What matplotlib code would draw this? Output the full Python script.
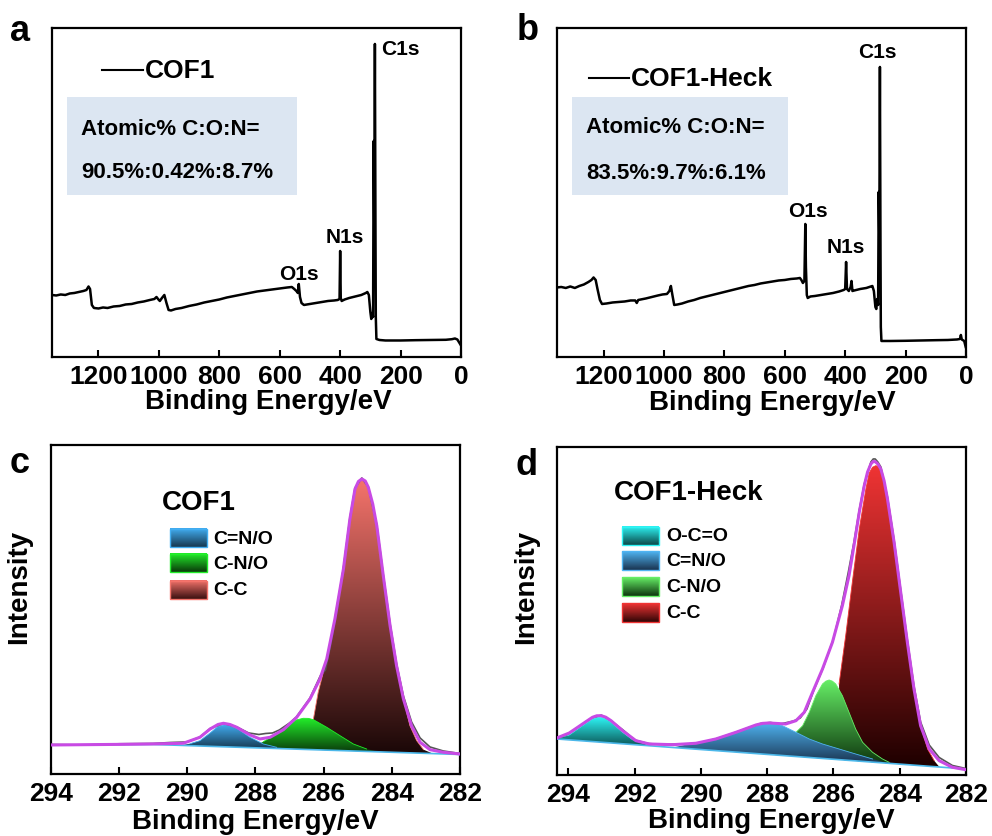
### XPS survey spectra and C1s fits of COF1 / COF1-Heck
import numpy as np
import matplotlib
matplotlib.use('Agg')
import matplotlib.pyplot as plt
from matplotlib.colors import LinearSegmentedColormap
from matplotlib.patches import Rectangle

plt.rcParams['font.family'] = ['Liberation Sans', 'DejaVu Sans']
plt.rcParams['font.weight'] = 'bold'
plt.rcParams['axes.labelweight'] = 'bold'

# ---------------- survey spectra (binding energy eV, intensity a.u.) ----------------
survey_a_E = [1354, 1340, 1325, 1310, 1295, 1280, 1265, 1250, 1240, 1233, 1228, 1222, 1215, 1200,
              1185, 1170, 1150, 1130, 1110, 1090, 1070, 1050, 1030, 1015, 1008, 1003, 997, 990,
              982, 975, 968, 960, 945, 925, 900, 875, 850, 825, 800, 775, 750, 725, 700, 675,
              650, 625, 600, 575, 560, 552, 545, 540, 537, 533, 528, 520, 500, 480, 460, 440,
              420, 408, 402, 400, 398, 395, 385, 370, 350, 330, 315, 310, 305, 300, 297, 294,
              291, 289, 287, 285, 283, 282, 280, 270, 250, 200, 150, 100, 50, 30, 20, 12, 5, 1]
survey_a_I = [62, 61.5, 62.5, 62, 63.5, 64, 65, 66, 67, 70.5, 68, 52, 49, 48.5,
              49.5, 49, 50.5, 51, 52.5, 53, 54.5, 55.5, 57, 58, 60, 58, 56, 59,
              62, 54, 47, 46.5, 48, 49, 51, 52.5, 54.5, 56, 57.5, 59.5, 61, 62.5, 64, 65.5,
              66.5, 67.5, 68.5, 69.5, 70, 68, 66, 64, 73, 60, 54, 52, 53, 54, 55, 56,
              56.5, 57, 58, 106, 59, 56, 57.5, 59, 60.5, 62, 64, 65, 62, 45, 38, 44,
              40, 216, 130, 313, 120, 40, 18, 17, 16.5, 16.5, 16.8, 17, 17.2, 17.8, 18.5, 17.5, 14, 12]

survey_b_E = [1354, 1340, 1325, 1310, 1295, 1280, 1265, 1250, 1240, 1233, 1226, 1220, 1212, 1205,
              1190, 1170, 1150, 1130, 1110, 1095, 1090, 1085, 1060, 1040, 1020, 1005, 990, 982,
              977, 972, 966, 955, 940, 920, 900, 880, 860, 840, 820, 800, 780, 760, 740, 720,
              700, 680, 660, 640, 620, 600, 580, 560, 550, 545, 540, 535, 532, 530, 527, 524,
              515, 500, 480, 460, 440, 420, 405, 400, 397, 394, 388, 382, 379, 376, 370, 350,
              330, 315, 310, 305, 300, 297, 294, 291, 289, 287, 285, 283, 282, 280, 250, 200,
              150, 100, 60, 30, 20, 17, 14, 6, 1]
survey_b_I = [69.5, 70, 69, 70.5, 69, 71, 72.5, 75, 77, 79.5, 77, 68, 57, 53,
              53.5, 54.5, 55, 55.5, 56.5, 56.5, 54, 57, 58.5, 60, 61.5, 62.5, 63, 66,
              71, 62, 52, 52.5, 53.5, 55.5, 57, 59, 60.5, 62, 63.5, 65, 66.5, 68, 69.5, 71,
              72, 73.5, 74.5, 75.5, 76.5, 77, 78, 78.5, 79, 77, 74, 76, 133, 90, 62, 59,
              60.5, 61, 62, 63, 64, 65.5, 67, 68, 95, 68, 66, 70, 76, 66, 66.5, 68,
              69, 70.5, 71, 66, 50, 48, 58, 52, 165, 120, 290, 100, 30, 16, 16, 16.2,
              16.5, 16.8, 17, 17.5, 18, 22, 17.5, 16, 10]

survey_ticks = [1200, 1000, 800, 600, 400, 200, 0]

# ---------------- C1s, COF1 ----------------
c_env_E = [294.0, 293.0, 292.0, 291.1, 290.12, 289.63, 289.33, 289.1, 288.94, 288.75, 288.55,
           288.16, 287.87, 287.57, 287.18, 286.79, 286.40, 286.11, 285.91, 285.67, 285.42,
           285.23, 285.08, 284.98, 284.88, 284.78, 284.69, 284.56, 284.44, 284.25, 284.05,
           283.86, 283.66, 283.42, 283.17, 282.88, 282.49, 282.0]
c_env_I = [29, 29.3, 29.6, 30, 30.7, 36.7, 45, 49.5, 50.7, 49.5, 46.7,
           39, 35, 36.7, 44.3, 56.7, 75, 95, 115, 155, 205,
           255, 285, 292.5, 295, 293, 286.7, 270, 248, 198, 148,
           108, 75, 48, 31.7, 24.3, 21.7, 20]
c_raw_E = [294.0, 293.0, 292.0, 291.0, 290.5, 290.0, 289.63, 289.33, 288.94, 288.55, 288.2, 287.9,
           287.7, 287.5, 287.3, 287.0, 286.8, 286.4, 286.1, 285.95, 285.8, 285.6, 285.42, 285.23,
           285.08, 284.88, 284.69, 284.44, 284.25, 284.05, 283.86, 283.66, 283.42, 283.17, 282.88,
           282.49, 282.2, 282.0]
c_raw_I = [29.5, 29.0, 30.2, 30.5, 31.5, 32, 37, 45.5, 50.5, 47, 41, 39.5,
           40.5, 41, 44, 51, 57, 76, 98, 104, 128, 165, 206, 256,
           286, 296, 287, 249, 199, 150, 110, 78, 52, 36, 27,
           23, 21.5, 20.5]
c_base_E = [294.0, 291.0, 282.0]
c_base_I = [29.0, 29.5, 19.5]

c_labels = ['C=N/O', 'C-N/O', 'C-C']
c_cno_E = [290.2, 289.9, 289.63, 289.33, 289.1, 288.9, 288.72, 288.55, 288.16, 287.77, 287.38, 287.0]
c_cno_I = [28.6, 30.5, 33.3, 41, 47.5, 49.3, 48.3, 45.7, 36.7, 30, 26.7, 25.1]
c_cn_E = [288.1, 287.77, 287.38, 286.99, 286.8, 286.6, 286.45, 286.3, 285.91, 285.52, 285.13,
          284.74, 284.4]
c_cn_I = [26.3, 32.3, 40, 50, 54, 55.7, 55.6, 54.3, 46.7, 38.3, 30, 25, 22.2]
c_cc_E = [286.3, 286.3, 286.16, 286.01, 285.81, 285.62, 285.42, 285.23, 285.03, 284.95, 284.88,
          284.8, 284.69, 284.56, 284.44, 284.25, 284.05, 283.86, 283.66, 283.47, 283.27, 283.07,
          282.8]
c_cc_I = [24.2, 55, 81.7, 101.7, 128, 168, 208, 255, 288, 292.5, 294,
          292.5, 286.7, 269, 248, 198, 148, 108, 75, 48.3, 33.3, 24.3,
          20.4]

# ---------------- C1s, COF1-Heck ----------------
d_env_E = [294.34, 294.27, 293.97, 293.57, 293.27, 293.14, 293.01, 292.87, 292.71, 292.36, 291.96,
           291.56, 290.85, 290.15, 289.55, 288.94, 288.34, 288.14, 287.94, 287.74, 287.44, 287.13,
           286.88, 286.63, 286.33, 286.03, 285.73, 285.53, 285.38, 285.22, 285.07, 284.97, 284.87,
           284.8, 284.74, 284.66, 284.57, 284.47, 284.37, 284.17, 283.97, 283.77, 283.57, 283.37,
           283.11, 282.81, 282.41, 282.01]
d_env_I = [37, 38, 42, 51, 57.7, 59.2, 59.3, 57.8, 54.3, 44.3, 34.3,
           31, 30.3, 31.7, 36, 42.7, 50, 51.6, 52, 51.6, 51, 54.3,
           62.7, 82.7, 106, 132.7, 169.3, 199.3, 229.3, 262.7, 289.3, 303, 311,
           313.5, 313.3, 311, 306, 294, 276, 232.7, 182.7, 132.7, 86, 49.3,
           26, 14.3, 7.7, 5.3]
d_raw_E = [294.34, 294.0, 293.6, 293.3, 293.0, 292.7, 292.35, 292.0, 291.6, 291.2, 290.8, 290.4,
           290.0, 289.5, 289.0, 288.5, 288.2, 287.9, 287.6, 287.4, 287.2, 287.0, 286.8, 286.6,
           286.3, 286.0, 285.75, 285.55, 285.38, 285.22, 285.07, 284.87, 284.8, 284.74, 284.66,
           284.57, 284.37, 284.17, 283.97, 283.77, 283.57, 283.37, 283.11, 282.81, 282.41, 282.01]
d_raw_I = [36.5, 41, 50, 57, 59.8, 54, 45, 35, 31.5, 30.5, 30.8, 31,
           32.5, 36.5, 42, 48, 51.5, 52.5, 51, 52.5, 54, 57, 66, 84,
           108, 136, 170, 203, 233, 265, 291, 313, 316, 316, 313,
           308, 278, 235, 185, 135, 89, 53, 30, 17.5, 9.5, 6.5]
d_base_E = [294.34, 282.0]
d_base_I = [36.0, 6.0]

d_labels = ['O-C=O', 'C=N/O', 'C-N/O', 'C-C']
d_occo_E = [294.34, 294.27, 293.97, 293.57, 293.27, 293.14, 293.01, 292.87, 292.71, 292.36, 292.06,
            291.76, 291.56]
d_occo_I = [36.0, 37.5, 40, 49.3, 56, 57.5, 57.7, 56.3, 52.7, 42.7, 35.3, 32, 29.2]
d_cno_E = [290.85, 290.35, 289.85, 289.35, 288.84, 288.34, 288.14, 287.94, 287.74, 287.54, 287.13,
           286.73, 286.33, 285.83, 285.33, 284.82, 284.32]
d_cno_I = [27.5, 31, 33.3, 37.7, 44.3, 50, 51.5, 52, 51.2, 49.3, 42.7, 36, 31, 26, 21, 16, 11.6]
d_cn_E = [287.13, 287.13, 286.93, 286.73, 286.53, 286.33, 286.23, 286.13, 286.03, 285.93, 285.73,
          285.53, 285.33, 285.12, 284.82, 284.52, 284.32, 284.2]
d_cn_I = [18.5, 42.7, 49.3, 62.7, 79.3, 91, 93.8, 95, 93.8, 91, 79.3,
          62.7, 46, 32.7, 22.7, 16, 12.7, 11.3]
d_cc_E = [285.83, 285.83, 285.63, 285.43, 285.22, 285.02, 284.92, 284.82, 284.72, 284.64, 284.57,
          284.47, 284.37, 284.17, 283.97, 283.77, 283.57, 283.37, 283.16, 282.96, 282.8]
d_cc_I = [15.3, 91, 139.3, 192.7, 246, 286, 302, 307.7, 309.3, 308.3, 305.3,
          293, 276, 232.7, 182.7, 132.7, 86, 49.3, 26, 14.3, 7.9]

c1s_ticks = [294, 292, 290, 288, 286, 284, 282]

ENV_COLOR = '#c84ae4'
BASE_COLOR = '#4cb8ea'


def style_axes(ax, xlim, ylim, ticks, label_xy):
    ax.set_xlim(*xlim)
    ax.set_ylim(*ylim)
    ax.set_xticks(ticks)
    ax.set_yticks([])
    ax.tick_params(axis='x', direction='in', length=5, width=1.5, labelsize=19, pad=5)
    for sp in ax.spines.values():
        sp.set_linewidth(1.6)
    ax.set_xlabel('Binding Energy/eV', fontsize=20, fontweight='bold')
    ax.xaxis.set_label_coords(*label_xy)


def gradient_fill(ax, x, y, top, bottom, z):
    # polygon of the component, filled with a vertical colour ramp
    x = np.asarray(x)
    y = np.asarray(y)
    poly, = ax.fill(x, y, facecolor='none', edgecolor='none', zorder=z)
    cmap = LinearSegmentedColormap.from_list('ramp', [bottom, top])
    ramp = np.linspace(0, 1, 256).reshape(-1, 1)
    im = ax.imshow(ramp, cmap=cmap, aspect='auto', origin='lower', interpolation='bilinear',
                   extent=[x.min(), x.max(), y.min(), y.max()], zorder=z)
    im.set_clip_path(poly)
    ax.plot(x[1:-1], y[1:-1], color=top, lw=0.6, zorder=z)


def legend_patch(ax, x0, y0, w, h, top, bottom, text, tx):
    cmap = LinearSegmentedColormap.from_list('ramp', [bottom, top])
    ramp = np.linspace(0, 1, 64).reshape(-1, 1)
    ax.imshow(ramp, cmap=cmap, aspect='auto', origin='lower', interpolation='bilinear',
              extent=[x0, x0 + w, y0, y0 + h], transform=ax.transAxes, zorder=6)
    ax.add_patch(Rectangle((x0, y0), w, h, transform=ax.transAxes, facecolor='none',
                           edgecolor=top, lw=1.0, zorder=7))
    ax.text(tx, y0 + h / 2, text, transform=ax.transAxes, fontsize=14, fontweight='bold',
            ha='left', va='center', zorder=7)


fig = plt.figure(figsize=(9.92, 8.37), dpi=100)
ax_a = fig.add_axes([0.0524, 0.5723, 0.4123, 0.3931])
ax_b = fig.add_axes([0.5615, 0.5723, 0.4123, 0.3931])
ax_c = fig.add_axes([0.0514, 0.0741, 0.4123, 0.3931])
ax_d = fig.add_axes([0.5615, 0.0729, 0.4123, 0.3919])

# ---- a: COF1 survey ----
ax_a.plot(survey_a_E, survey_a_I, color='k', lw=1.8)
style_axes(ax_a, (1354, 0), (0, 329), survey_ticks, (0.53, -0.093))
ax_a.plot([0.122, 0.222], [0.872, 0.872], color='k', lw=1.5, transform=ax_a.transAxes)
ax_a.text(0.227, 0.872, 'COF1', transform=ax_a.transAxes, fontsize=19, va='center')
ax_a.add_patch(Rectangle((0.037, 0.492), 0.562, 0.298, transform=ax_a.transAxes,
                         facecolor='#dce6f2', edgecolor='none'))
ax_a.text(0.071, 0.693, 'Atomic% C:O:N=', transform=ax_a.transAxes, fontsize=16, va='center')
ax_a.text(0.071, 0.565, '90.5%:0.42%:8.7%', transform=ax_a.transAxes, fontsize=16, va='center')
ax_a.text(266, 308, 'C1s', fontsize=15, ha='left', va='center')
ax_a.text(386, 120, 'N1s', fontsize=15, ha='center', va='center')
ax_a.text(538, 83, 'O1s', fontsize=15, ha='center', va='center')

# ---- b: COF1-Heck survey ----
ax_b.plot(survey_b_E, survey_b_I, color='k', lw=1.8)
style_axes(ax_b, (1354, 0), (0, 329), survey_ticks, (0.527, -0.096))
ax_b.plot([0.078, 0.176], [0.848, 0.848], color='k', lw=1.5, transform=ax_b.transAxes)
ax_b.text(0.181, 0.848, 'COF1-Heck', transform=ax_b.transAxes, fontsize=19, va='center')
ax_b.add_patch(Rectangle((0.037, 0.492), 0.528, 0.299, transform=ax_b.transAxes,
                         facecolor='#dce6f2', edgecolor='none'))
ax_b.text(0.071, 0.699, 'Atomic% C:O:N=', transform=ax_b.transAxes, fontsize=16, va='center')
ax_b.text(0.071, 0.562, '83.5%:9.7%:6.1%', transform=ax_b.transAxes, fontsize=16, va='center')
ax_b.text(293, 305, 'C1s', fontsize=15, ha='center', va='center')
ax_b.text(522, 146, 'O1s', fontsize=15, ha='center', va='center')
ax_b.text(399, 110, 'N1s', fontsize=15, ha='center', va='center')

# ---- c: COF1 C1s ----
gradient_fill(ax_c, c_cc_E, c_cc_I, '#f4736b', '#1a0707', 2)
gradient_fill(ax_c, c_cn_E, c_cn_I, '#22ee2a', '#0a3a0a', 3)
gradient_fill(ax_c, c_cno_E, c_cno_I, '#42aef2', '#163850', 4)
ax_c.plot(c_base_E, c_base_I, color=BASE_COLOR, lw=1.2, zorder=4.5)
ax_c.plot(c_raw_E, c_raw_I, color='#555555', lw=1.2, zorder=4.6)
ax_c.plot(c_env_E, c_env_I, color=ENV_COLOR, lw=2.2, zorder=5)
style_axes(ax_c, (294, 282), (0, 329), c1s_ticks, (0.499, -0.102))
ax_c.set_ylabel('Intensity', fontsize=20)
ax_c.yaxis.set_label_coords(-0.045, 0.571)
ax_c.text(0.271, 0.827, 'COF1', transform=ax_c.transAxes, fontsize=20, va='center')
c_colors = [('#42aef2', '#163850'), ('#22ee2a', '#0a3a0a'), ('#f4736b', '#3a1010')]
c_rows = [0.689, 0.613, 0.532]
for lab, (top, bot), y0 in zip(c_labels, c_colors, c_rows):
    legend_patch(ax_c, 0.291, y0, 0.090, 0.056, top, bot, lab, 0.396)

# ---- d: COF1-Heck C1s ----
gradient_fill(ax_d, d_cc_E, d_cc_I, '#f03434', '#1e0000', 2)
gradient_fill(ax_d, d_cn_E, d_cn_I, '#66ee66', '#0e360e', 3)
gradient_fill(ax_d, d_cno_E, d_cno_I, '#4fb4f2', '#1a3450', 4)
gradient_fill(ax_d, d_occo_E, d_occo_I, '#2ef4f4', '#0b5555', 4)
ax_d.plot(d_base_E, d_base_I, color=BASE_COLOR, lw=1.2, zorder=4.5)
ax_d.plot(d_raw_E, d_raw_I, color='#555555', lw=1.2, zorder=4.6)
ax_d.plot(d_env_E, d_env_I, color=ENV_COLOR, lw=2.2, zorder=5)
style_axes(ax_d, (294.34, 282), (0, 328), c1s_ticks, (0.524, -0.098))
ax_d.set_ylabel('Intensity', fontsize=20)
ax_d.yaxis.set_label_coords(-0.044, 0.576)
ax_d.text(0.139, 0.863, 'COF1-Heck', transform=ax_d.transAxes, fontsize=20, va='center')
d_colors = [('#2ef4f4', '#0b4a4a'), ('#4fb4f2', '#1a3450'), ('#66ee66', '#0e360e'),
            ('#f03434', '#300606')]
d_rows = [0.701, 0.626, 0.547, 0.467]
for lab, (top, bot), y0 in zip(d_labels, d_colors, d_rows):
    legend_patch(ax_d, 0.160, y0, 0.090, 0.056, top, bot, lab, 0.266)

# panel letters
fig.text(0.0101, 0.951, 'a', fontsize=26, fontweight='bold', va='baseline')
fig.text(0.521, 0.952, 'b', fontsize=26, fontweight='bold', va='baseline')
fig.text(0.0101, 0.435, 'c', fontsize=26, fontweight='bold', va='baseline')
fig.text(0.520, 0.4325, 'd', fontsize=26, fontweight='bold', va='baseline')

fig.savefig('out.png', dpi=100)
